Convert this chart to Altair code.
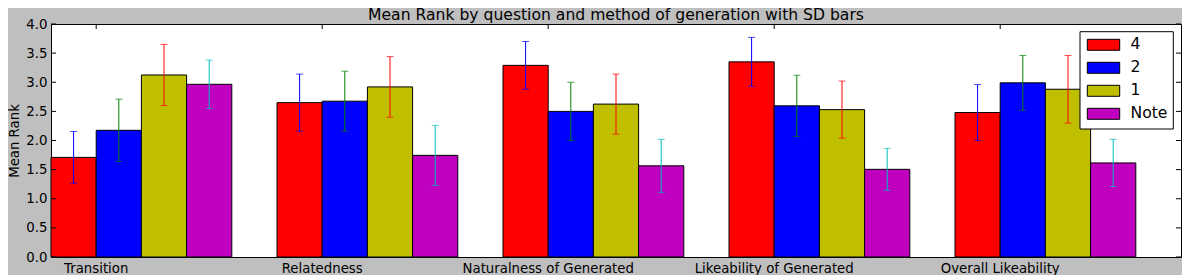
import altair as alt
import pandas as pd

title_text = "Mean Rank by question and method of generation with SD bars"
questions = ["Transition", "Relatedness", "Naturalness of Generated",
             "Likeability of Generated", "Overall Likeability"]
methods = ["4", "2", "1", "Note"]

mean_4 = [1.71, 2.65, 3.29, 3.35, 2.48]
mean_2 = [2.175, 2.675, 2.50, 2.595, 2.99]
mean_1 = [3.125, 2.92, 2.625, 2.53, 2.88]
mean_note = [2.965, 1.745, 1.565, 1.505, 1.615]

sd_4 = [0.445, 0.49, 0.41, 0.42, 0.48]
sd_2 = [0.535, 0.515, 0.50, 0.525, 0.47]
sd_1 = [0.525, 0.52, 0.515, 0.49, 0.58]
sd_note = [0.415, 0.515, 0.455, 0.36, 0.405]

y_ticks = [0.0, 0.5, 1.0, 1.5, 2.0, 2.5, 3.0, 3.5, 4.0]

bar_colors = ["#ff0000", "#0000ff", "#bfbf00", "#bf00bf"]
err_colors = ["#0000ff", "#008000", "#ff0000", "#00bfbf"]

rows = []
for m, means, sds in zip(methods, [mean_4, mean_2, mean_1, mean_note],
                         [sd_4, sd_2, sd_1, sd_note]):
    for q, mu, s in zip(questions, means, sds):
        rows.append({"question": q, "method": m, "mean": mu,
                     "lo": mu - s, "hi": mu + s})
df = pd.DataFrame(rows)

W, H = 1130, 233
STEP = W / len(questions)
FONT = "DejaVu Sans"

xscale = alt.Scale(paddingInner=0.2, paddingOuter=0.1, align=0)
yscale = alt.Scale(domain=[0, 4], nice=False)
xoff = alt.XOffset("method:N", sort=methods,
                   scale=alt.Scale(paddingInner=0, paddingOuter=0))

# matplotlib ticks sit one bar width into each group
x_axis = alt.Axis(title=None, labelAngle=0, ticks=False, domain=False,
                  labelOffset=-0.2 * STEP, labelFontSize=13.3, labelFont=FONT,
                  labelColor="black", labelPadding=4, labelOverlap=False)
y_axis = alt.Axis(title="Mean Rank", values=y_ticks, format=".1f", ticks=False,
                  domain=False, grid=False, labelFontSize=13.3, labelFont=FONT,
                  labelColor="black", labelPadding=4, labelOverlap=False,
                  titleFont=FONT, titleFontSize=13.3, titleFontWeight="normal",
                  titleColor="black", titleAngle=-90, titleX=-32.5, titleY=H / 2,
                  titleAlign="center", titleBaseline="alphabetic")


def X():
    return alt.X("question:N", sort=questions, scale=xscale, axis=x_axis)


def Y(field):
    return alt.Y(field, scale=yscale, axis=y_axis)


base = alt.Chart(df)

bars = base.mark_bar(stroke="black", strokeWidth=1, opacity=1).encode(
    x=X(),
    xOffset=xoff,
    y=Y("mean:Q"),
    fill=alt.Fill("method:N", sort=methods,
                  scale=alt.Scale(domain=methods, range=bar_colors),
                  legend=None),
)

err_color = alt.Color("method:N", sort=methods,
                      scale=alt.Scale(domain=methods, range=err_colors),
                      legend=None)

err = base.mark_rule(strokeWidth=1).encode(
    x=X(), xOffset=xoff, y=Y("lo:Q"), y2="hi:Q", color=err_color,
)
cap_lo = base.mark_tick(orient="horizontal", size=7, thickness=1).encode(
    x=X(), xOffset=xoff, y=Y("lo:Q"), color=err_color,
)
cap_hi = base.mark_tick(orient="horizontal", size=7, thickness=1).encode(
    x=X(), xOffset=xoff, y=Y("hi:Q"), color=err_color,
)

qdf = pd.DataFrame({"question": questions})
top_ticks = alt.Chart(qdf).mark_rule(color="black", strokeWidth=1).encode(
    x=alt.X("question:N", sort=questions, scale=xscale, axis=x_axis,
            bandPosition=0.25),
    y=alt.value(0), y2=alt.value(5),
)

ydf = pd.DataFrame({"v": y_ticks})
left_ticks = alt.Chart(ydf).mark_rule(color="black", strokeWidth=1).encode(
    y=Y("v:Q"), x=alt.value(0), x2=alt.value(5))
right_ticks = alt.Chart(ydf).mark_rule(color="black", strokeWidth=1).encode(
    y=Y("v:Q"), x=alt.value(W - 5), x2=alt.value(W))

# title as a text mark centred over the plot area
tdf = pd.DataFrame({"t": [title_text]})
title = alt.Chart(tdf).mark_text(font=FONT, fontSize=15.6, color="black",
                                 align="center", baseline="alphabetic").encode(
    text="t:N", x=alt.value(W / 2), y=alt.value(-4))

# legend box (matplotlib style, upper right)
LX0, LX1, LY0, LY1 = W - 101, W - 7.7, 7.7, 105
ROW = 23
ldf = pd.DataFrame({"method": methods, "color": bar_colors})
legend_layers = [
    alt.Chart(ldf.iloc[:1]).mark_rect(fill="white", stroke="black", strokeWidth=1).encode(
        x=alt.value(LX0), x2=alt.value(LX1), y=alt.value(LY0), y2=alt.value(LY1))
]
for i, (m, c) in enumerate(zip(methods, bar_colors)):
    row = ldf.iloc[i:i + 1]
    legend_layers.append(
        alt.Chart(row).mark_rect(fill=c, stroke="black", strokeWidth=1).encode(
            x=alt.value(LX0 + 7.3), x2=alt.value(LX0 + 39.7),
            y=alt.value(15.3 + ROW * i), y2=alt.value(26.3 + ROW * i)))
    legend_layers.append(
        alt.Chart(row).mark_text(font=FONT, fontSize=15.6, color="black",
                                 align="left", baseline="alphabetic").encode(
            text="method:N", x=alt.value(LX0 + 50.5), y=alt.value(25.3 + ROW * i)))

chart = alt.layer(bars, err, cap_lo, cap_hi, top_ticks, left_ticks, right_ticks,
                  title, *legend_layers).properties(
    width=W, height=H,
    autosize=alt.AutoSizeParams(type="none"),
    padding={"left": 43, "top": 16, "right": 1, "bottom": 18},
    background="#bfbfbf",
).configure_view(fill="white", stroke="black", strokeWidth=1)

chart.save("out.html", embed_options={"renderer": "svg", "actions": False})
